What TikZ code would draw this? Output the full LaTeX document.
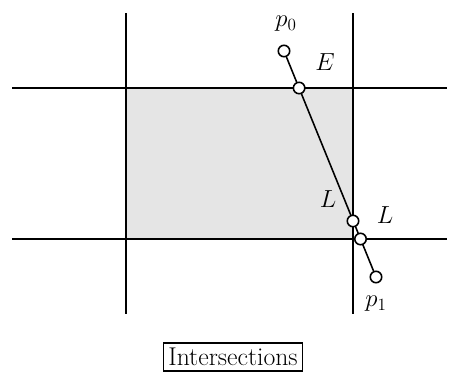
\documentclass[tikz,border=0pt]{standalone}
\usepackage{amsmath}
\usetikzlibrary{positioning}

\begin{document}
\begin{tikzpicture}[x=0.7pt,y=-0.7pt,line width=1.3pt,
  font=\fontsize{18}{22}\selectfont,
  pt/.style={circle,draw,line width=1.1pt,fill=white,inner sep=0pt,minimum size=8pt}]
\useasboundingbox (0,0) rectangle (459,383);
\fill[gray!20] (126,88) rectangle (353,239);
\foreach \y in {88,239}{\draw (12,\y)--(447,\y);}
\foreach \x in {126,353}{\draw (\x,13)--(\x,314);}
\node[pt] (p0) at (284,51) {};
\node[pt] (p1) at (376,277) {};
\draw[line width=1.1pt] (p0)--(p1);
\node[pt] (e) at (299.1,88) {};
\node[pt] (l1) at (353,221) {};
\node[pt] (l2) at (360.5,239) {};
\node (p0lbl) at (286,24) {$p_0$};
\node (elbl) at (325,62) {$E$};
\node (l1lbl) at (328,199) {$L$};
\node (l2lbl) at (385,215) {$L$};
\node (p1lbl) at (376,304) {$p_1$};
\node[draw,line width=1.1pt,inner sep=3.5pt] (cap) at (233,357) {Intersections};
\end{tikzpicture}
\end{document}
